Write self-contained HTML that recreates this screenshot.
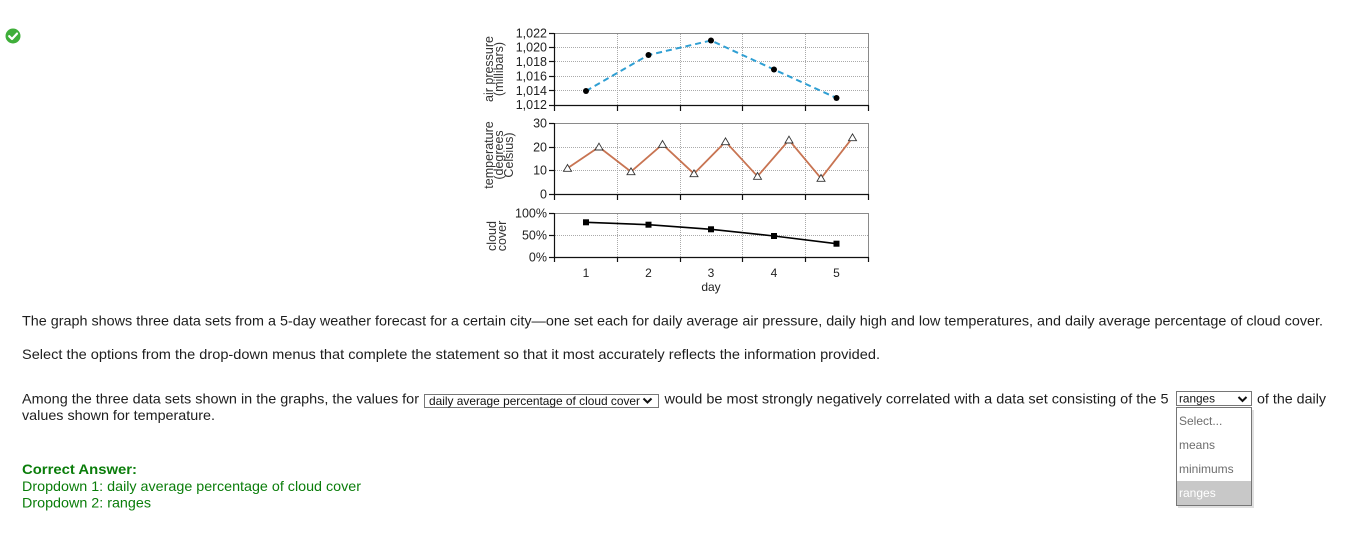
<!DOCTYPE html>
<html><head><meta charset="utf-8"><style>
html,body{margin:0;padding:0;background:#fff;}
svg{display:block;}
</style></head><body>
<svg width="1366" height="554" viewBox="0 0 1366 554" xmlns="http://www.w3.org/2000/svg" font-family="'Liberation Sans', Arial, sans-serif">
<rect width="1366" height="554" fill="#fff"/>
<!-- check icon -->
<circle cx="13" cy="36" r="7.5" fill="#3fae3a"/>
<path d="M9.2 36.2 L12 39 L17 33.6" fill="none" stroke="#fff" stroke-width="2.2" stroke-linecap="round" stroke-linejoin="round"/>

<!-- ===== gridlines ===== -->
<g stroke="#aaa" stroke-width="1" stroke-dasharray="1,1" fill="none">
<line x1="555" y1="47.5" x2="868" y2="47.5"/><line x1="555" y1="61.5" x2="868" y2="61.5"/><line x1="555" y1="76.5" x2="868" y2="76.5"/><line x1="555" y1="90.5" x2="868" y2="90.5"/>
<line x1="617.5" y1="34" x2="617.5" y2="105"/><line x1="680.5" y1="34" x2="680.5" y2="105"/><line x1="742.5" y1="34" x2="742.5" y2="105"/><line x1="805.5" y1="34" x2="805.5" y2="105"/>
<line x1="555" y1="147.5" x2="868" y2="147.5"/><line x1="555" y1="170.5" x2="868" y2="170.5"/>
<line x1="617.5" y1="124" x2="617.5" y2="194"/><line x1="680.5" y1="124" x2="680.5" y2="194"/><line x1="742.5" y1="124" x2="742.5" y2="194"/><line x1="805.5" y1="124" x2="805.5" y2="194"/>
<line x1="555" y1="235.5" x2="868" y2="235.5"/>
<line x1="617.5" y1="214" x2="617.5" y2="257"/><line x1="680.5" y1="214" x2="680.5" y2="257"/><line x1="742.5" y1="214" x2="742.5" y2="257"/><line x1="805.5" y1="214" x2="805.5" y2="257"/>
</g>
<g stroke="#8a8a8a" stroke-width="1" fill="none">
<polyline points="554,33.5 868.5,33.5 868.5,105"/>
<polyline points="554,123.5 868.5,123.5 868.5,194"/>
<polyline points="554,213.5 868.5,213.5 868.5,257"/>
</g>
<g stroke="#111" stroke-width="1.2" fill="none">
<line x1="554.5" y1="33" x2="554.5" y2="111"/>
<line x1="554" y1="105.5" x2="869" y2="105.5"/>
<line x1="617.5" y1="105" x2="617.5" y2="111"/><line x1="680.5" y1="105" x2="680.5" y2="111"/><line x1="742.5" y1="105" x2="742.5" y2="111"/><line x1="805.5" y1="105" x2="805.5" y2="111"/><line x1="868.5" y1="105" x2="868.5" y2="111"/>
<line x1="549" y1="33.5" x2="554" y2="33.5"/><line x1="549" y1="47.5" x2="554" y2="47.5"/><line x1="549" y1="61.5" x2="554" y2="61.5"/><line x1="549" y1="76.5" x2="554" y2="76.5"/><line x1="549" y1="90.5" x2="554" y2="90.5"/><line x1="549" y1="105.5" x2="554" y2="105.5"/>
<line x1="554.5" y1="123" x2="554.5" y2="200"/>
<line x1="554" y1="194.5" x2="869" y2="194.5"/>
<line x1="617.5" y1="194" x2="617.5" y2="200"/><line x1="680.5" y1="194" x2="680.5" y2="200"/><line x1="742.5" y1="194" x2="742.5" y2="200"/><line x1="805.5" y1="194" x2="805.5" y2="200"/><line x1="868.5" y1="194" x2="868.5" y2="200"/>
<line x1="549" y1="123.5" x2="554" y2="123.5"/><line x1="549" y1="147.5" x2="554" y2="147.5"/><line x1="549" y1="170.5" x2="554" y2="170.5"/><line x1="549" y1="194.5" x2="554" y2="194.5"/>
<line x1="554.5" y1="213" x2="554.5" y2="262"/>
<line x1="554" y1="257.5" x2="869" y2="257.5"/>
<line x1="617.5" y1="257" x2="617.5" y2="262"/><line x1="680.5" y1="257" x2="680.5" y2="262"/><line x1="742.5" y1="257" x2="742.5" y2="262"/><line x1="805.5" y1="257" x2="805.5" y2="262"/><line x1="868.5" y1="257" x2="868.5" y2="262"/>
<line x1="549" y1="213.5" x2="554" y2="213.5"/><line x1="549" y1="235.5" x2="554" y2="235.5"/><line x1="549" y1="257.5" x2="554" y2="257.5"/>
</g>
<g font-size="12.5" fill="#222" text-anchor="end">
<text x="547" y="37.5">1,022</text><text x="547" y="51.5">1,020</text><text x="547" y="66">1,018</text><text x="547" y="80.5">1,016</text><text x="547" y="95">1,014</text><text x="547" y="109">1,012</text>
<text x="547" y="127.5">30</text><text x="547" y="151.5">20</text><text x="547" y="174.5">10</text><text x="547" y="198.5">0</text>
<text x="547" y="217.5">100%</text><text x="547" y="239.5">50%</text><text x="547" y="261.5">0%</text>
</g>
<g font-size="12" fill="#222" text-anchor="middle">
<text x="586" y="277">1</text><text x="648.5" y="277">2</text><text x="711" y="277">3</text><text x="774" y="277">4</text><text x="836.5" y="277">5</text>
<text x="711" y="291">day</text>
</g>
<g font-size="12.5" fill="#333" text-anchor="middle">
<text transform="translate(493,69) rotate(-90)">air pressure</text>
<text transform="translate(503,69) rotate(-90)">(millibars)</text>
<text transform="translate(493,155) rotate(-90)">temperature</text>
<text transform="translate(503,155) rotate(-90)">(degrees</text>
<text transform="translate(513,155) rotate(-90)">Celsius)</text>
<text transform="translate(496,236) rotate(-90)">cloud</text>
<text transform="translate(506,236) rotate(-90)">cover</text>
</g>
<polyline points="586,91 648.5,55 711,40.5 774,69.5 836.5,98" fill="none" stroke="#2f9fd3" stroke-width="2" stroke-dasharray="6,4"/>
<g fill="#000"><circle cx="586" cy="91" r="3"/><circle cx="648.5" cy="55" r="3"/><circle cx="711" cy="40.5" r="3"/><circle cx="774" cy="69.5" r="3"/><circle cx="836.5" cy="98" r="3"/></g>
<polyline points="567.5,168.3 599,147 631,171.7 662.5,144.3 694,173.7 725.5,141.7 757.5,176.3 789,140 821,178.3 852.5,137.7" fill="none" stroke="#c87452" stroke-width="1.8"/>
<g fill="#fff" stroke="#333" stroke-width="0.9">
<polygon points="567.5,164.5 571.5,171.3 563.5,171.3"/>
<polygon points="599,143.2 603,150 595,150"/>
<polygon points="631,167.9 635,174.7 627,174.7"/>
<polygon points="662.5,140.5 666.5,147.3 658.5,147.3"/>
<polygon points="694,169.9 698,176.7 690,176.7"/>
<polygon points="725.5,137.9 729.5,144.7 721.5,144.7"/>
<polygon points="757.5,172.5 761.5,179.3 753.5,179.3"/>
<polygon points="789,136.2 793,143 785,143"/>
<polygon points="821,174.5 825,181.3 817,181.3"/>
<polygon points="852.5,133.9 856.5,140.7 848.5,140.7"/>
</g>
<polyline points="586,222.3 648.5,224.7 711,229.3 774,236 836.5,243.7" fill="none" stroke="#000" stroke-width="1.6"/>
<g fill="#000"><rect x="583" y="219.3" width="6" height="6"/><rect x="645.5" y="221.7" width="6" height="6"/><rect x="708" y="226.3" width="6" height="6"/><rect x="771" y="233" width="6" height="6"/><rect x="833.5" y="240.7" width="6" height="6"/></g>

<g font-size="14" fill="#1e1e1e">
<text x="22" y="325.5" textLength="1301" lengthAdjust="spacingAndGlyphs">The graph shows three data sets from a 5-day weather forecast for a certain city—one set each for daily average air pressure, daily high and low temperatures, and daily average percentage of cloud cover.</text>
<text x="22" y="359" textLength="858" lengthAdjust="spacingAndGlyphs">Select the options from the drop-down menus that complete the statement so that it most accurately reflects the information provided.</text>
<text x="22" y="403.3" textLength="397" lengthAdjust="spacingAndGlyphs">Among the three data sets shown in the graphs, the values for</text>
<text x="664.5" y="403.3" textLength="504" lengthAdjust="spacingAndGlyphs">would be most strongly negatively correlated with a data set consisting of the 5</text>
<text x="1257" y="403.3" textLength="69" lengthAdjust="spacingAndGlyphs">of the daily</text>
<text x="22" y="420" textLength="193" lengthAdjust="spacingAndGlyphs">values shown for temperature.</text>
</g>
<rect x="424.5" y="394.5" width="234" height="13" fill="#fff" stroke="#767676" stroke-width="1"/>
<text x="429" y="405" font-size="12" fill="#111" textLength="211" lengthAdjust="spacingAndGlyphs">daily average percentage of cloud cover</text>
<polyline points="643.5,398.5 647.5,402.5 651.5,398.5" fill="none" stroke="#111" stroke-width="2"/>
<rect x="1176.5" y="391.5" width="75" height="14" fill="#fff" stroke="#767676" stroke-width="1"/>
<text x="1179" y="402.5" font-size="12" fill="#111" textLength="36" lengthAdjust="spacingAndGlyphs">ranges</text>
<polyline points="1238.5,397 1242.5,401 1246.5,397" fill="none" stroke="#111" stroke-width="2"/>
<rect x="1178" y="410" width="76" height="98" fill="#000" opacity="0.12"/>
<rect x="1176.5" y="407.5" width="75" height="98" fill="#fff" stroke="#767676" stroke-width="1"/>
<rect x="1177" y="481" width="74" height="24" fill="#c8c8c8"/>
<g font-size="12" fill="#6d6d6d">
<text x="1179" y="425">Select...</text>
<text x="1179" y="449">means</text>
<text x="1179" y="473">minimums</text>
<text x="1179" y="497" fill="#fff">ranges</text>
</g>
<g font-size="14" fill="#0a7d0a">
<text x="22" y="474" font-weight="bold" textLength="115" lengthAdjust="spacingAndGlyphs">Correct Answer:</text>
<text x="22" y="491" textLength="339" lengthAdjust="spacingAndGlyphs">Dropdown 1: daily average percentage of cloud cover</text>
<text x="22" y="507.7" textLength="129" lengthAdjust="spacingAndGlyphs">Dropdown 2: ranges</text>
</g>
</svg>
</body></html>
